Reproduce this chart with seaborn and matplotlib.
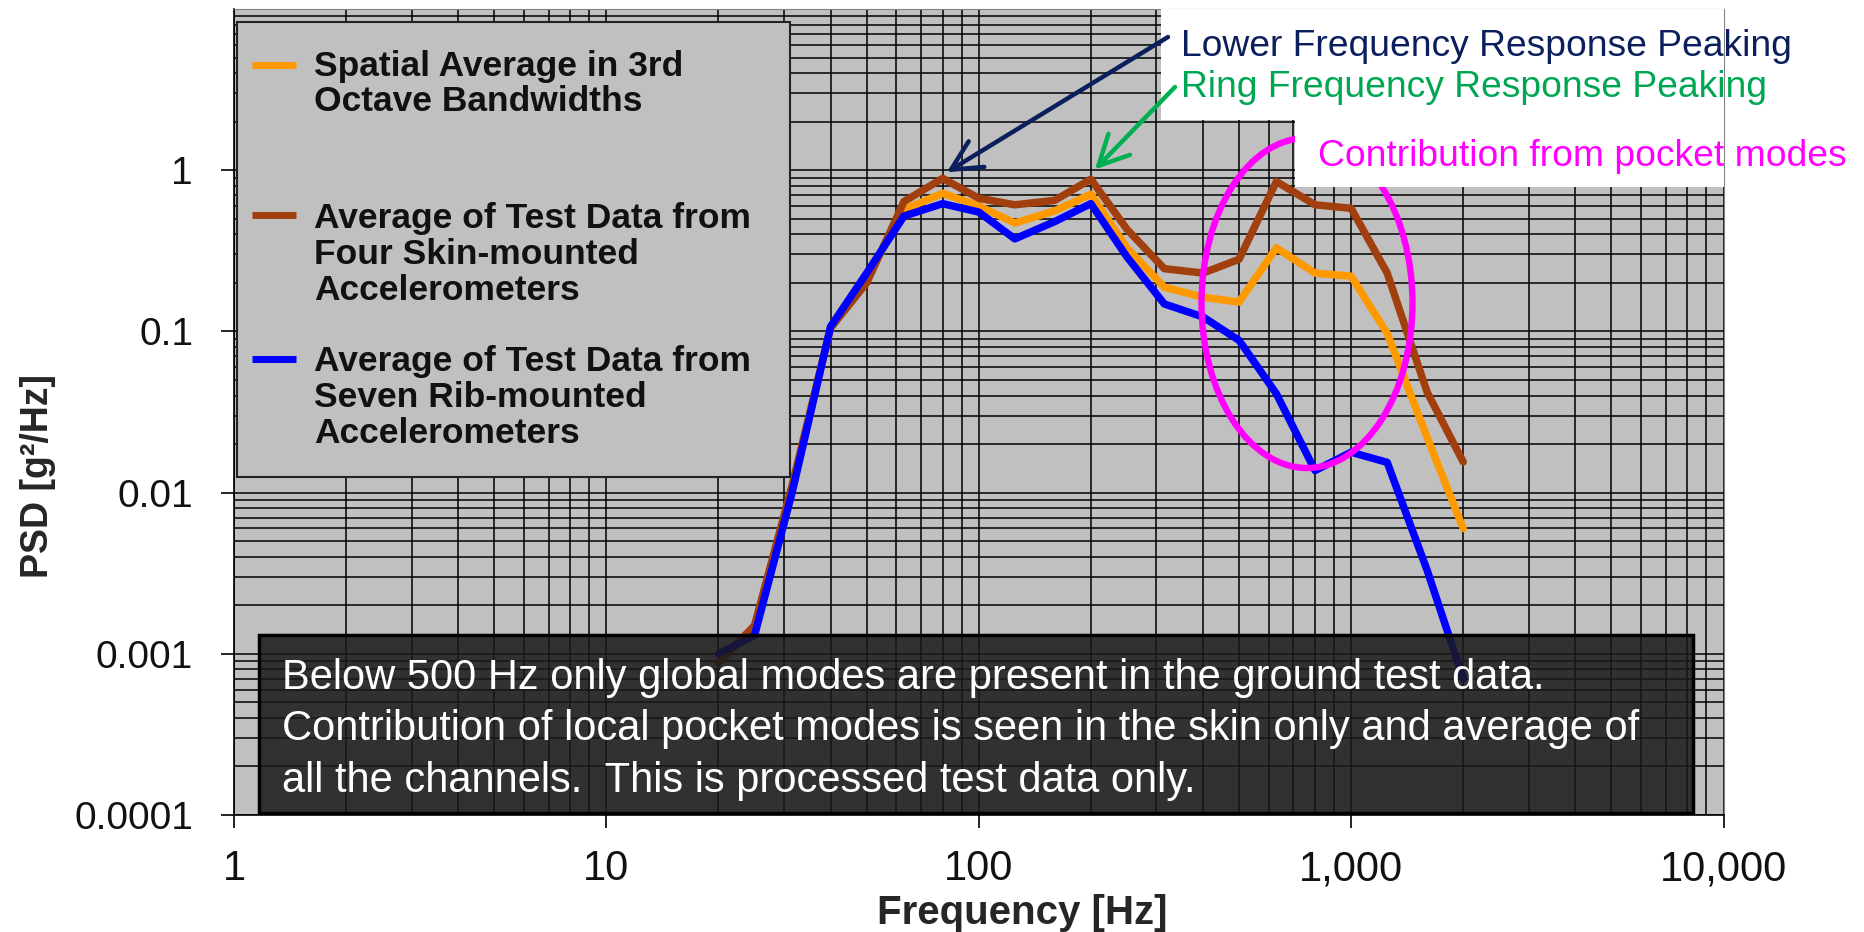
import numpy as np
import pandas as pd
import seaborn as sns
import matplotlib.pyplot as plt
from matplotlib.patches import Rectangle, Ellipse
from matplotlib.ticker import FixedLocator, LogLocator, NullFormatter

#-----------------------------------------------------------------------------------------
#----------------------------------- DATA ------------------------------------------------
#-----------------------------------------------------------------------------------------

freqs = [20, 25, 31.5, 40, 50, 63, 80, 100, 125, 160, 200, 250, 315, 400, 500,
         630, 800, 1000, 1250, 1600, 2000]

psd_spatial = [np.nan, 0.0014, 0.0105, 0.106, 0.21, 0.57, 0.72, 0.60, 0.47, 0.56, 0.71,
               0.33, 0.188, 0.163, 0.152, 0.33, 0.23, 0.22, 0.097, 0.022, 0.006]
psd_skin = [0.00088, 0.0015, 0.011, 0.105, 0.20, 0.64, 0.89, 0.67, 0.61, 0.65, 0.88,
            0.43, 0.245, 0.23, 0.28, 0.85, 0.61, 0.58, 0.23, 0.042, 0.0155]
psd_rib = [0.0010, 0.0013, 0.0099, 0.107, 0.23, 0.52, 0.62, 0.55, 0.375, 0.48, 0.62,
           0.29, 0.148, 0.123, 0.088, 0.041, 0.0137, 0.0178, 0.0154, 0.0033, 0.0007]

series_names = ['spatial', 'skin', 'rib']
series_labels = [
    'Spatial Average in 3rd\nOctave Bandwidths',
    'Average of Test Data from\nFour Skin-mounted\nAccelerometers',
    'Average of Test Data from\nSeven Rib-mounted\nAccelerometers',
]
series_colors = ['#FF9900', '#A23F0E', '#0000FF']

x_ticks = [1, 10, 100, 1000, 10000]
x_ticklabels = ['1', '10', '100', '1,000', '10,000']
y_ticks = [0.0001, 0.001, 0.01, 0.1, 1]
y_ticklabels = ['0.0001', '0.001', '0.01', '0.1', '1']

note_text = ('Below 500 Hz only global modes are present in the ground test data.\n'
             'Contribution of local pocket modes is seen in the skin only and average of\n'
             'all the channels.  This is processed test data only.')

df = pd.DataFrame({
    'freq': freqs * 3,
    'psd': psd_spatial + psd_skin + psd_rib,
    'series': sum([[n] * len(freqs) for n in series_names], []),
}).dropna()

#-----------------------------------------------------------------------------------------
#----------------------------------- LAYOUT ----------------------------------------------
#-----------------------------------------------------------------------------------------

W, H = 1864, 932
AX_L, AX_R, AX_T, AX_B = 234, 1723.5, 9, 815


def fx(px):
    # pixel x -> axes fraction
    return (px - AX_L) / (AX_R - AX_L)


def fy(py):
    # pixel y -> axes fraction
    return (AX_B - py) / (AX_B - AX_T)


sns.set_style('ticks')
plt.rcParams['font.family'] = ['Liberation Sans', 'DejaVu Sans']

fig = plt.figure(figsize=(W / 100, H / 100), dpi=100)
ax = fig.add_axes([AX_L / W, 1 - AX_B / H, (AX_R - AX_L) / W, (AX_B - AX_T) / H])
ax.set_facecolor('#C0C0C0')

sns.lineplot(data=df, x='freq', y='psd', hue='series', hue_order=series_names,
             palette=dict(zip(series_names, series_colors)), linewidth=5.4,
             estimator=None, legend=False, ax=ax)

ax.set_xscale('log')
ax.set_yscale('log')
ax.set_xlim(1, 10000)
ax.set_ylim(0.0001, 10)

ax.xaxis.set_major_locator(FixedLocator(x_ticks))
ax.set_xticklabels(x_ticklabels)
ax.yaxis.set_major_locator(FixedLocator(y_ticks))
ax.set_yticklabels(y_ticklabels)
for axis in (ax.xaxis, ax.yaxis):
    axis.set_minor_locator(LogLocator(base=10, subs=np.arange(2, 10), numticks=100))
    axis.set_minor_formatter(NullFormatter())

ax.grid(True, which='both', color='black', linewidth=1.1)
ax.set_axisbelow(True)
ax.tick_params(which='major', length=9.5, width=1.2, color='black', labelcolor='#111111')
ax.tick_params(axis='y', which='major', pad=20, labelsize=28)
ax.tick_params(axis='x', which='major', pad=15, labelsize=30)
ax.tick_params(which='minor', length=0)
for side in ['left', 'bottom']:
    ax.spines[side].set_color('black')
    ax.spines[side].set_linewidth(1.2)
for side in ['top', 'right']:
    ax.spines[side].set_color('#808080')

ax.set_xlabel('Frequency [Hz]', fontsize=29, fontweight='bold')
ax.xaxis.set_label_coords(fx(1022), fy(894))
ax.set_ylabel('PSD [g²/Hz]', fontsize=27, fontweight='bold')
ax.yaxis.set_label_coords(fx(56), fy(476))

#-----------------------------------------------------------------------------------------
#----------------------------------- LEGEND ----------------------------------------------
#-----------------------------------------------------------------------------------------

ax.add_patch(Rectangle((fx(237), fy(477)), fx(790) - fx(237), fy(22) - fy(477),
                       transform=ax.transAxes, facecolor='#C0C0C0', edgecolor='#222222',
                       linewidth=1.5, zorder=4))
handle_y = [65, 215, 359]
baselines = [[76, 111], [228, 264, 300], [371, 407, 443]]
for label, color, hy, bls in zip(series_labels, series_colors, handle_y, baselines):
    ax.plot([fx(252), fx(296)], [fy(hy), fy(hy)], transform=ax.transAxes, color=color,
            linewidth=5.0, solid_capstyle='butt', zorder=5)
    for line, bl in zip(label.split('\n'), bls):
        ax.text(fx(314), fy(bl), line, transform=ax.transAxes, fontsize=25.5,
                fontweight='bold', color='#111111', va='baseline', ha='left', zorder=5)

#-----------------------------------------------------------------------------------------
#----------------------------------- NOTES -----------------------------------------------
#-----------------------------------------------------------------------------------------

# bottom note box (semi transparent so grid and lines show through)
ax.add_patch(Rectangle((fx(259), fy(813)), fx(1693) - fx(259), fy(635) - fy(813),
                       transform=ax.transAxes, facecolor='#1A1A1A', alpha=0.86,
                       edgecolor='none', zorder=4))
ax.add_patch(Rectangle((fx(259), fy(813)), fx(1693) - fx(259), fy(635) - fy(813),
                       transform=ax.transAxes, facecolor='none', edgecolor='black',
                       linewidth=2.5, zorder=4))
for line, bl in zip(note_text.split('\n'), [689, 740, 792]):
    ax.text(fx(282), fy(bl), line, transform=ax.transAxes, fontsize=30, color='white',
            va='baseline', ha='left', zorder=5)

# pocket mode ellipse
ax.add_patch(Ellipse((fx(1307), fy(303)), fx(1518) - fx(1307), fy(138) - fy(468),
                     transform=ax.transAxes, fill=False, edgecolor='#FF00FF',
                     linewidth=4.6, zorder=6))

# white boxes behind the callouts
ax.add_patch(Rectangle((fx(1161), fy(120)), 1 - fx(1161), 1 - fy(120),
                       transform=ax.transAxes, facecolor='white', edgecolor='none',
                       zorder=7, clip_on=False))
ax.add_patch(Rectangle((fx(1295), fy(187)), 1 - fx(1295), fy(120) - fy(187),
                       transform=ax.transAxes, facecolor='white', edgecolor='none',
                       zorder=7, clip_on=False))

ax.text(fx(1181), fy(47), 'Lower Frequency Response Peaking', transform=ax.transAxes,
        fontsize=26.8, color='#0B1F5C', va='center', ha='left', zorder=8)
ax.text(fx(1181), fy(88), 'Ring Frequency Response Peaking', transform=ax.transAxes,
        fontsize=26.8, color='#00A651', va='center', ha='left', zorder=8)
ax.text(fx(1318), fy(157), 'Contribution from pocket modes', transform=ax.transAxes,
        fontsize=26.8, color='#FF00FF', va='center', ha='left', zorder=8)

arrow_style = '->, head_length=0.6, head_width=0.3'
ax.annotate('', xy=(82, 0.97), xycoords='data', xytext=(fx(1168), fy(37)),
            textcoords='axes fraction', zorder=8,
            arrowprops=dict(arrowstyle=arrow_style, color='#0B1F5C', lw=3.2,
                            mutation_scale=36, shrinkA=0, shrinkB=0))
ax.annotate('', xy=(205, 1.01), xycoords='data', xytext=(fx(1175), fy(87)),
            textcoords='axes fraction', zorder=8,
            arrowprops=dict(arrowstyle=arrow_style, color='#00B050', lw=3.2,
                            mutation_scale=36, shrinkA=0, shrinkB=0))

fig.savefig('out.png', dpi=100, facecolor='white')
